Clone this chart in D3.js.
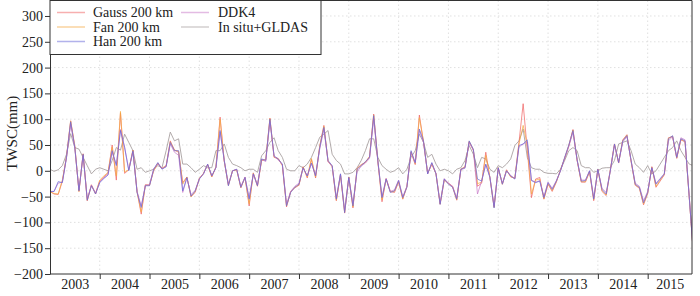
<!DOCTYPE html>
<html><head><meta charset="utf-8">
<script src="https://cdn.jsdelivr.net/npm/d3@7"></script>
<style>
body{margin:0;background:#fff}
svg{display:block}
svg text{font-family:"Liberation Serif" !important}
</style>
</head><body>
<svg id="chart" width="700" height="296" font-family="Liberation Serif"></svg>
<script>
const years = [2003,2004,2005,2006,2007,2008,2009,2010,2011,2012,2013,2014,2015];
const yTicks = [-200,-150,-100,-50,0,50,100,150,200,250,300];
const seriesNames = ["Gauss 200 km","Fan 200 km","Han 200 km","DDK4","In situ+GLDAS"];
const seriesColors = ["#f06060","#f5aa40","#6666d8","#c878c8","#aaa2a2"];
const FONT = "Liberation Serif";

const gauss = [-40,-45,-46,-20,28,97,48,-40,33,-58,-27,-45,
 -20,-12,-5,50,-18,112,-5,2,40,-40,-84,-27,
 -28,0,14,5,10,58,40,36,-23,-12,-50,-42,
 -15,-5,12,-12,8,104,18,-28,0,2,-33,-13,
 -68,-4,-30,20,22,102,26,24,10,-70,-40,-33,
 -28,8,-14,22,-14,48,88,18,8,-58,-8,-82,
 -12,-72,5,12,16,28,110,18,-60,-15,-40,-42,
 -22,-55,-30,36,12,108,55,-5,12,-5,-65,-18,
 -24,-30,-57,3,8,56,40,-30,-24,36,-14,-70,
 6,-26,2,-12,-14,55,130,40,-52,-16,-13,-55,
 -26,-40,-22,2,24,48,80,20,-22,-22,-2,-58,
 3,-40,-48,2,52,15,60,70,18,-28,-34,-66,
 -44,8,-32,-20,-8,64,66,24,60,56,-50,-160];

const fan = [-40,-44,-45,-18,27,96,47,-40,32,-57,-28,-44,
 -18,-10,-3,46,-10,115,-2,2,40,-41,-80,-28,
 -28,1,15,4,9,56,40,38,-26,-12,-50,-40,
 -15,-5,12,-11,7,100,19,-28,0,2,-32,-13,
 -64,-5,-29,21,21,101,27,23,11,-68,-41,-32,
 -27,7,-12,24,-12,47,86,19,9,-57,-7,-80,
 -12,-70,4,11,17,27,108,19,-56,-16,-41,-40,
 -20,-54,-31,37,14,103,57,-5,14,-6,-64,-17,
 -25,-31,-56,3,7,57,41,-25,-22,30,-13,-71,
 6,-26,1,-11,-15,52,88,50,-45,-18,-16,-54,
 -25,-38,-21,1,25,49,79,21,-21,-21,-1,-56,
 3,-38,-47,1,52,16,59,69,19,-27,-33,-64,
 -43,7,-30,-18,-7,63,67,25,61,57,-50,-160];

const han = [-40,-40,-21,-23,26,95,45,-39,32,-57,-29,-45,
 -23,-15,-8,39,10,78,45,0,39,-42,-71,-29,
 -29,3,16,3,8,55,39,39,-39,-13,-49,-39,
 -16,-6,13,-10,6,78,20,-29,0,3,-32,-13,
 -55,-6,-29,23,20,100,29,23,13,-68,-42,-32,
 -26,6,-10,15,-10,45,84,20,10,-55,-6,-81,
 -13,-68,3,10,18,26,107,20,-52,-16,-42,-39,
 -19,-52,-32,39,16,81,58,-6,16,-6,-65,-16,
 -26,-32,-55,3,6,58,42,-16,-20,13,-13,-72,
 6,-26,0,-10,-16,49,52,60,-19,-23,-20,-52,
 -23,-36,-20,0,26,50,78,22,-20,-19,0,-55,
 3,-36,-45,0,52,16,58,68,20,-26,-32,-62,
 -42,6,-26,-16,-6,62,68,26,62,58,-50,-160];

const ddk4 = [-40,-40,-24,-22,25,90,44,-37,30,-54,-28,-43,
 -22,-14,-8,36,12,80,46,2,36,-40,-68,-28,
 -27,4,14,4,8,52,36,30,-42,-14,-46,-38,
 -15,-6,12,-9,6,75,20,-26,0,3,-30,-12,
 -52,-6,-27,22,18,95,28,21,12,-64,-40,-30,
 -24,5,-10,14,-8,42,80,18,9,-52,-6,-76,
 -13,-64,-2,9,15,24,100,18,-50,-15,-40,-37,
 -18,-50,-30,36,15,78,55,-6,15,-5,-62,-15,
 -24,-30,-52,2,5,55,40,-45,-20,12,-12,-68,
 5,-24,0,-9,-15,46,52,56,-18,-22,-19,-50,
 -22,-34,-19,0,24,47,74,20,-18,-18,0,-52,
 2,-34,-42,0,50,16,56,66,20,-24,-30,-58,
 -40,6,-24,-15,-6,58,66,26,64,60,-48,-160];

const insitu = [3,-1,2,10,32,72,45,42,26,10,-6,3,
 6,3,0,20,45,40,71,55,39,3,6,-3,
 0,3,10,6,39,75,58,62,13,13,6,-3,
 3,10,6,6,39,39,52,26,13,10,6,0,
 3,3,-3,29,39,55,64,39,26,3,0,0,
 10,6,13,26,45,65,71,78,32,20,13,-6,
 -6,-3,6,20,39,62,62,26,10,3,-3,0,
 6,-6,3,26,39,71,55,26,32,13,0,3,
 0,-6,3,6,20,49,32,6,26,23,3,-3,
 10,6,13,23,49,58,81,26,6,3,3,-3,
 -5,-5,-6,3,20,39,45,39,10,6,6,-3,
 0,5,6,6,20,52,55,58,39,13,6,-3,
 10,-6,0,13,26,39,45,58,39,26,13,10];

const seriesData = [gauss, fan, han, ddk4, insitu];
const times = d3.range(gauss.length).map(i => years[0] + i / 12);

const svg = d3.select("#chart");
const L = 50, R = 692, T = 0.5, B = 274;

const x = d3.scaleLinear().domain([2003, 2016]).range([49.9, 697.5]);
const y = d3.scaleLinear().domain([-200, 330]).range([B, T]);

// grid
const grid = svg.append("g");
grid.selectAll("line.h").data(yTicks.filter(d => d > -200)).join("line")
  .attr("x1", L).attr("x2", R).attr("y1", d => y(d)).attr("y2", d => y(d))
  .attr("stroke", "#d8d8d8").attr("stroke-width", 0.8).attr("stroke-dasharray", "1.5,2.5");
const bounds = years.slice(1);
grid.selectAll("line.v").data(bounds).join("line")
  .attr("x1", d => x(d)).attr("x2", d => x(d)).attr("y1", T).attr("y2", B)
  .attr("stroke", "#d8d8d8").attr("stroke-width", 0.8).attr("stroke-dasharray", "1.5,2.5");

// clip
svg.append("clipPath").attr("id", "clip").append("rect")
  .attr("x", L).attr("y", T).attr("width", R - L).attr("height", B - T);

const line = d3.line().x((d, i) => x(times[i])).y(d => y(d));
const order = [4, 0, 1, 3, 2];
const lines = svg.append("g").attr("clip-path", "url(#clip)");
order.forEach(k => {
  lines.append("path").datum(seriesData[k])
    .attr("d", line).attr("fill", "none")
    .attr("stroke", seriesColors[k]).attr("stroke-width", 1)
    .attr("stroke-opacity", k === 4 ? 0.9 : 0.7)
    .attr("stroke-linejoin", "round");
});

// axes
const yAxis = svg.append("g").attr("transform", `translate(${L},0)`)
  .call(d3.axisLeft(y).tickValues(yTicks).tickSize(5).tickSizeOuter(0).tickPadding(2));
yAxis.attr("font-family", FONT).attr("font-size", 14);
yAxis.select(".domain").attr("stroke", "#333");
yAxis.selectAll(".tick line").attr("stroke", "#333");
yAxis.selectAll("text").attr("font-family", FONT).attr("font-size", 14).attr("fill", "#222");

const xAxis = svg.append("g").attr("transform", `translate(0,${B})`)
  .call(d3.axisBottom(x).tickValues(bounds).tickSize(5).tickSizeOuter(0).tickFormat(""));
xAxis.select(".domain").remove();
xAxis.selectAll(".tick line").attr("stroke", "#333");

const mids = years.map(yr => x.invert((Math.max(x(yr), L) + Math.min(x(yr + 1), R)) / 2));
const xLab = svg.append("g").attr("transform", `translate(0,${B})`)
  .call(d3.axisBottom(x).tickValues(mids).tickSize(0).tickPadding(5)
    .tickFormat((d, i) => String(years[i])));
xLab.attr("font-family", FONT).attr("font-size", 14);
xLab.select(".domain").remove();
xLab.selectAll("text").attr("font-family", FONT).attr("font-size", 14).attr("fill", "#222");

// frame
svg.append("path")
  .attr("d", `M${L},${B}H${R}V${T}H${L}`)
  .attr("fill", "none").attr("stroke", "#333").attr("stroke-width", 1);

// y title
svg.append("text")
  .attr("transform", `translate(17,${(T + B) / 2 - 4}) rotate(-90)`)
  .attr("text-anchor", "middle").attr("font-family", FONT).attr("font-size", 15)
  .attr("fill", "#222").text("TWSC(mm)");

// legend
const lg = svg.append("g");
lg.append("rect").attr("x", L).attr("y", 0.5).attr("width", 271).attr("height", 54)
  .attr("fill", "#fff").attr("stroke", "#333").attr("stroke-width", 1);
const legPos = [[0,0],[0,1],[0,2],[1,0],[1,1]];
seriesNames.forEach((name, k) => {
  const [c, r] = legPos[k];
  const lx = c === 0 ? 57 : 181;
  const ly = 12.5 + r * 14.5;
  lg.append("line").attr("x1", lx).attr("x2", lx + 28).attr("y1", ly).attr("y2", ly)
    .attr("stroke", seriesColors[k]).attr("stroke-opacity", 0.5).attr("stroke-width", 1.5);
  lg.append("text").attr("x", c === 0 ? 93 : 218).attr("y", ly + 4.5)
    .attr("font-family", FONT).attr("font-size", 14).attr("fill", "#222").text(name);
});
</script>
</body></html>
